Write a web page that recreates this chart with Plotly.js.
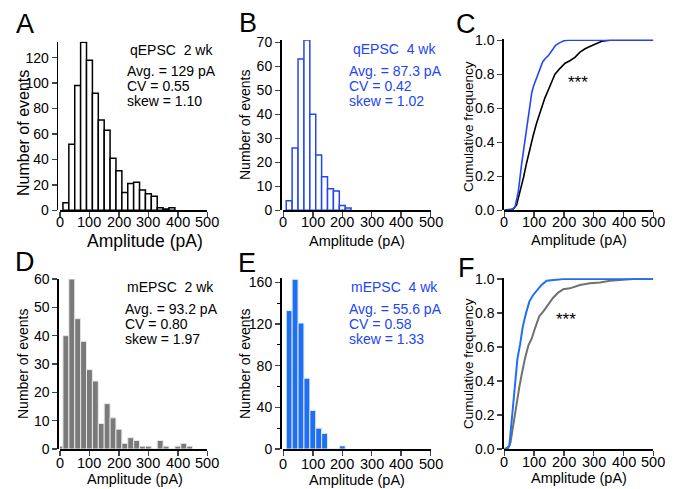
<!DOCTYPE html>
<html>
<head>
<meta charset="utf-8">
<script src="https://cdn.plot.ly/plotly-3.0.1.min.js"></script>
<style>html,body{margin:0;padding:0;background:#fff;}#chart{width:679px;height:489px;}</style>
</head>
<body>
<div id="chart"></div>
<script>
// ---------- data ----------
const binsA = [20,40,60,80,100,120,140,160,180,200,220,240,260,280,300,320,340,360,380];
const countsA = [6,52,98,132,118,92,71,63,41,31,14,21,22,16,13,11,2,1,2];

const binsB = [20,40,60,80,100,120,140,160,180,200,220];
const countsB = [4,26,63,71,40,23,14,9,8,2,1];

const binsD = [0,20,40,60,80,100,120,140,160,180,200,220,240,260,280,300,320,340,360,380,400,420,440];
const countsD = [1,40,60,46,38,28,24,9,16,11,7,2,4,3,1,1,0,3,1,0,1,2,1];

const binsE = [20,40,60,80,100,120,140,160,180,200];
const countsE = [133,163,121,68,37,20,15,0,0,3];

const cumC4wkX = [0,25,36,47,58,66,75,84,92,98,104,112,120,128,136,148,160,172,185,200,215,500];
const cumC4wkY = [0,0.004,0.02,0.11,0.27,0.37,0.50,0.61,0.69,0.73,0.76,0.79,0.83,0.87,0.89,0.91,0.94,0.97,0.985,0.997,1,1];
const cumC2wkX = [0,30,41,53,64,75,86,97,108,120,136,153,170,187,204,220,237,254,271,287,310,327,355,500];
const cumC2wkY = [0,0.008,0.03,0.11,0.19,0.28,0.37,0.44,0.51,0.58,0.66,0.73,0.80,0.835,0.865,0.88,0.90,0.93,0.95,0.963,0.982,0.994,1,1];

const cumF4wkX = [0,8,17,22,28,36,44,53,62,73,84,97,111,125,142,164,198,500];
const cumF4wkY = [0,0.004,0.02,0.12,0.22,0.40,0.53,0.615,0.72,0.80,0.867,0.906,0.935,0.965,0.99,0.994,1,1];
const cumF2wkX = [0,13,21,30,41,50,58,69,81,92,103,117,131,148,164,181,198,220,254,287,321,355,399,433,500];
const cumF2wkY = [0,0.004,0.04,0.14,0.28,0.36,0.435,0.53,0.61,0.65,0.71,0.78,0.81,0.85,0.89,0.92,0.94,0.945,0.965,0.975,0.98,0.99,0.996,1,1];

const xTicks = [0,100,200,300,400,500];
const xTickLabels = ['0','100','200','300','400','500'];

// ---------- style ----------
const W = 679, H = 489;
const FONT = 'Liberation Sans, Arial, sans-serif';
const BLUE1 = '#2146f7';
const BLUE2 = '#1f6ff2';
const GRAY = '#7a7a7a';
const px = x => x / W;
const py = y => 1 - y / H;

function xax(l, r, anchor) {
  return {domain:[px(l), px(r)], range:[0,500], tickvals:xTicks, ticks:'outside', ticklen:5, tickwidth:1.5,
          showline:true, linewidth:1.5, linecolor:'#000', showgrid:false, zeroline:false, fixedrange:true,
          anchor:anchor, showticklabels:false};
}
function yax(bottom, top, range, dtick, pos, fmt) {
  const o = {domain:[py(bottom), py(top)], range:range, dtick:dtick, tick0:0, ticks:'outside', ticklen:5, tickwidth:1.5,
          showline:true, linewidth:1.5, linecolor:'#000', showgrid:false, zeroline:false, fixedrange:true,
          anchor:'free', position:px(pos),
          tickfont:{family:FONT, size:14, color:'#000'}};
  if (fmt) o.tickformat = fmt;
  return o;
}

const traces = [
  {type:'bar', x:binsA, y:countsA, width:20, xaxis:'x', yaxis:'y',
   marker:{color:'#fff', line:{color:'#000', width:1.5}}},
  {type:'bar', x:binsB, y:countsB, width:20, xaxis:'x2', yaxis:'y2',
   marker:{color:'#fff', line:{color:BLUE1, width:1.5}}},
  {type:'scatter', mode:'lines', x:cumC2wkX, y:cumC2wkY, xaxis:'x3', yaxis:'y3', line:{color:'#000', width:1.6}},
  {type:'scatter', mode:'lines', x:cumC4wkX, y:cumC4wkY, xaxis:'x3', yaxis:'y3', line:{color:BLUE1, width:1.6}},
  {type:'bar', x:binsD, y:countsD, width:20, xaxis:'x4', yaxis:'y4',
   marker:{color:GRAY, line:{color:'#e8e8e8', width:1}}},
  {type:'bar', x:binsE, y:countsE, width:20, xaxis:'x5', yaxis:'y5',
   marker:{color:BLUE2, line:{color:'#dfe9fb', width:1}}},
  {type:'scatter', mode:'lines', x:cumF2wkX, y:cumF2wkY, xaxis:'x6', yaxis:'y6', line:{color:'#707070', width:2}},
  {type:'scatter', mode:'lines', x:cumF4wkX, y:cumF4wkY, xaxis:'x6', yaxis:'y6', line:{color:BLUE2, width:2}}
];

function ann(text, x, y, size, opts) {
  return Object.assign({text:text, x:px(x), y:py(y), xref:'paper', yref:'paper', showarrow:false,
    xanchor:'left', yanchor:'middle', font:{family:FONT, size:size, color:'#000'}}, opts || {});
}
function colorAnn(text, x, y, size, color) {
  return ann(text, x, y, size, {font:{family:FONT, size:size, color:color}});
}
const cen = {xanchor:'center', yanchor:'middle'};
const rot = {xanchor:'center', yanchor:'middle', textangle:-90};

const annotations = [
  // panel letters
  ann('A', 25, 24, 27, cen), ann('B', 248, 23, 27, cen), ann('C', 466, 24, 27, cen),
  ann('D', 25, 262, 27, cen), ann('E', 247, 263, 27, cen), ann('F', 466, 268, 27, cen),
  // A text
  ann('qEPSC\u00a0 2 wk', 128, 50, 14), ann('Avg. = 129 pA', 125, 71, 14),
  ann('CV = 0.55', 125, 86.2, 14), ann('skew = 1.10', 125, 101.4, 14),
  // B text
  colorAnn('qEPSC\u00a0 4 wk', 351, 49.5, 14, BLUE1), colorAnn('Avg. = 87.3 pA', 346.7, 71, 14, BLUE1),
  colorAnn('CV = 0.42', 346.7, 86.2, 14, BLUE1), colorAnn('skew = 1.02', 346.7, 101.4, 14, BLUE1),
  // D text
  ann('mEPSC\u00a0 2 wk', 125, 286.5, 14), ann('Avg. = 93.2 pA', 123.3, 308.5, 14),
  ann('CV = 0.80', 123.3, 323.5, 14), ann('skew = 1.97', 123.3, 338.5, 14),
  // E text
  colorAnn('mEPSC\u00a0 4 wk', 349.3, 286.5, 14, BLUE1), colorAnn('Avg. = 55.6 pA', 346.7, 308.5, 14, BLUE1),
  colorAnn('CV = 0.58', 346.7, 323.5, 14, BLUE1), colorAnn('skew = 1.33', 346.7, 338.5, 14, BLUE1),
  // stars
  ann('***', 578, 82, 17, cen), ann('***', 565.5, 319, 17, cen),
  // axis titles
  ann('Amplitude (pA)', 145, 240.5, 17.5, cen), ann('Amplitude (pA)', 356.7, 240.5, 14.5, cen),
  ann('Amplitude (pA)', 578.5, 239.5, 14.5, cen), ann('Amplitude (pA)', 134.5, 478.5, 14.5, cen),
  ann('Amplitude (pA)', 357, 479.5, 14.5, cen), ann('Amplitude (pA)', 578.5, 478, 14.5, cen),
  ann('Number of events', 23, 133, 16, rot), ann('Number of events', 245, 125, 14, rot),
  ann('Cumulative frequency', 468, 127, 13.5, rot),
  ann('Number of events', 23, 364, 14, rot), ann('Number of events', 245, 364, 14, rot),
  ann('Cumulative frequency', 468, 364, 13.5, rot)
];

// x tick labels placed through each x axis scale
const tickRows = [['x', 222], ['x2', 222], ['x3', 221.5], ['x4', 462.5], ['x5', 463.5], ['x6', 461.5]];
tickRows.forEach(([ax, yPix]) => {
  xTicks.forEach((v, i) => {
    annotations.push({text:xTickLabels[i], x:v, xref:ax, y:py(yPix), yref:'paper', showarrow:false,
      xanchor:'center', yanchor:'middle', font:{family:FONT, size:14.5, color:'#000'}});
  });
});

const layout = {
  width:W, height:H, margin:{l:0, r:0, t:0, b:0}, paper_bgcolor:'#fff', plot_bgcolor:'#fff',
  showlegend:false, bargap:0, font:{family:FONT, color:'#000'},
  xaxis: xax(60, 207.3, 'y'),
  yaxis: yax(210.3, 41.7, [0,132.5], 20, 56.7),
  xaxis2: xax(283.3, 430.7, 'y2'),
  yaxis2: yax(210.3, 39.9, [0,71], 10, 280),
  xaxis3: xax(504.3, 653.3, 'y3'),
  yaxis3: yax(210.3, 39.45, [0,1.005], 0.2, 502.3, '.1f'),
  xaxis4: xax(60, 207.3, 'y4'),
  yaxis4: yax(449, 279, [0,60], 10, 57.3),
  xaxis5: xax(283.3, 430.7, 'y5'),
  yaxis5: Object.assign(yax(449, 278.3, [0,164], 40, 280),
           {minor:{dtick:20, tick0:0, ticks:'outside', ticklen:3, tickwidth:1, tickcolor:'#000', showgrid:false}}),
  xaxis6: xax(504.3, 653.3, 'y6'),
  yaxis6: yax(449, 278.15, [0,1.005], 0.2, 502.3, '.1f'),
  annotations: annotations
};

Plotly.newPlot('chart', traces, layout, {displayModeBar:false, staticPlot:true});
</script>
</body>
</html>
